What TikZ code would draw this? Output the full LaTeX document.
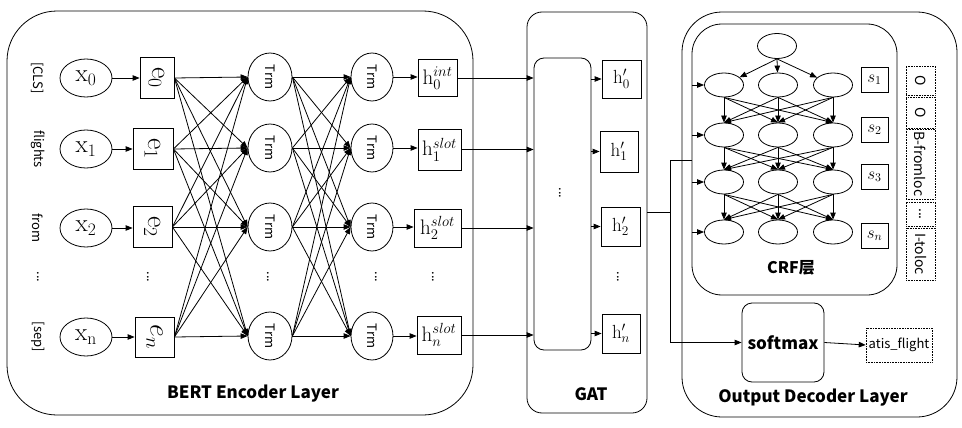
\RequirePackage{fix-cm}
\documentclass[tikz,border=0pt]{standalone}
\usepackage{fontspec}
\usepackage{graphicx}
\newfontfamily\cjk{Noto Sans CJK SC}
\usetikzlibrary{arrows.meta,shapes.geometric}
\tikzset{
  base/.style={line width=0.8pt},
  sqbox/.style={draw, base, inner sep=0pt},
  el/.style={draw, base, ellipse, inner sep=0pt},
  arr/.style={base, -{Triangle[length=7pt,width=5.5pt]}},
  ln/.style={base},
  dotbox/.style={draw, line width=0.6pt, densely dotted, inner sep=0pt},
  rbox/.style={draw, base, inner sep=0pt},
  sidelbl/.style={inner sep=0pt, font=\cjk\fontsize{13}{15}\selectfont, rotate=-90},
  dotlbl/.style={inner sep=0pt, font=\cjk\fontsize{13}{15}\selectfont, rotate=-90},
  title/.style={inner sep=0pt, font=\cjk\bfseries\fontsize{17}{20}\selectfont},
  xfont/.style={font=\fontsize{25}{27}\selectfont},
  efont/.style={font=\fontsize{28}{30}\selectfont},
  hfont/.style={font=\fontsize{21}{23}\selectfont},
  hpfont/.style={font=\fontsize{19}{21}\selectfont},
  trmfont/.style={font=\cjk\fontsize{13}{15}\selectfont},
  tagfont/.style={font=\cjk\fontsize{14}{16}\selectfont},
}
\newcommand{\rt}[1]{\rotatebox{-90}{#1}}
\begin{document}
\begin{tikzpicture}[x=1pt,y=-1pt]
\useasboundingbox (0,0) rectangle (962,428);

% ---------------- BERT encoder ----------------
\node[rbox, rounded corners=50pt, minimum width=466pt, minimum height=404pt] (bert) at (240,213) {};
\node[title] (bertlbl) at (253,394) {BERT Encoder Layer};

\node[sidelbl] (w0) at (38,78) {[CLS]};
\node[sidelbl] (w1) at (38,149) {flights};
\node[sidelbl] (w2) at (38,228) {from};
\node[dotlbl] (w3) at (38,277) {...};
\node[sidelbl] (w4) at (38,337) {[sep]};

\foreach \i/\y/\t in {0/78/{\mathrm{x}_0},1/149/{\mathrm{x}_1},2/228/{\mathrm{x}_2},n/337/{\mathrm{x}_\mathrm{n}}}{
  \node[el, minimum width=52pt, minimum height=38pt, xfont] (x\i) at (86,\y) {$\t$};
}
\node[sqbox, minimum width=34pt, minimum height=41pt, efont] (e0) at (157,78) {\rt{$\mathrm{e}_0$}};
\node[sqbox, minimum width=40pt, minimum height=41pt, efont] (e1) at (153,149) {\rt{$\mathrm{e}_1$}};
\node[sqbox, minimum width=39pt, minimum height=41pt, efont] (e2) at (152.5,227) {\rt{$\mathrm{e}_2$}};
\node[sqbox, minimum width=39pt, minimum height=40pt, efont] (en) at (154.5,337) {\rt{$e_n$}};
\node[dotlbl] (edots) at (148,277) {...};

\foreach \i/\y in {0/77,1/148,2/227,n/336}{
  \node[el, minimum width=44pt, minimum height=48pt, trmfont] (ta\i) at (270,\y) {\rt{Trm}};
  \node[el, minimum width=42pt, minimum height=48pt, trmfont] (tb\i) at (372,\y) {\rt{Trm}};
}
\node[dotlbl] (tadots) at (268,277) {...};
\node[dotlbl] (tbdots) at (376,277) {...};

\node[sqbox, minimum width=39pt, minimum height=37pt, hfont] (h0) at (437.5,78) {$\mathrm{h}_0^{int}$};
\node[sqbox, minimum width=43pt, minimum height=41pt, hfont] (h1) at (439.5,149.5) {$\mathrm{h}_1^{slot}$};
\node[sqbox, minimum width=47pt, minimum height=38pt, hfont] (h2) at (437.5,228) {$\mathrm{h}_2^{slot}$};
\node[sqbox, minimum width=44pt, minimum height=38pt, hfont] (hn) at (439,335) {$\mathrm{h}_n^{slot}$};
\node[dotlbl] (hdots) at (433,277) {...};

\foreach \i in {0,1,2,n}{
  \draw[arr] (x\i) -- (x\i -| e\i.west);
  \draw[arr] (tb\i) -- (tb\i -| h\i.west);
  \foreach \j in {0,1,2,n}{
    \draw[arr] (e\i.east) -- (ta\j.west);
    \draw[arr] (ta\i.east) -- (tb\j.west);
  }
}

% ---------------- GAT ----------------
\node[rbox, rounded corners=15pt, minimum width=120pt, minimum height=401pt] (gat) at (587,212.5) {};
\node[title] (gatlbl) at (591,394) {GAT};
\node[rbox, rounded corners=10pt, minimum width=57pt, minimum height=292pt] (gin) at (562.5,204) {};
\node[dotlbl] (gdots) at (560,193) {...};

\node[sqbox, minimum width=39pt, minimum height=38pt, hpfont] (hp0) at (621.5,79) {$\mathrm{h}_0'$};
\node[sqbox, minimum width=38pt, minimum height=41pt, hpfont] (hp1) at (619,151.5) {$\mathrm{h}_1'$};
\node[sqbox, minimum width=39pt, minimum height=39pt, hpfont] (hp2) at (620.5,226.5) {$\mathrm{h}_2'$};
\node[sqbox, minimum width=38pt, minimum height=39pt, hpfont] (hpn) at (621,333.5) {$\mathrm{h}_n'$};
\node[dotlbl] (hpdots) at (618,277) {...};

\foreach \i in {0,1,2,n}{
  \draw[arr] (h\i.east) -- (h\i.east -| gin.west);
  \draw[arr] (hp\i.west -| gin.east) -- (hp\i.west);
}

% ---------------- Output decoder ----------------
\node[rbox, rounded corners=40pt, minimum width=275pt, minimum height=405pt] (dec) at (819.5,214.5) {};
\node[title] (declbl) at (813,398) {Output Decoder Layer};
\node[rbox, rounded corners=30pt, minimum width=205pt, minimum height=271pt] (crf) at (794.5,159.5) {};
\node[title, font=\cjk\bfseries\fontsize{16}{18}\selectfont] (crflbl) at (791,268) {CRF层};

\node[el, minimum width=39pt, minimum height=25pt] (top) at (777,46) {};
\foreach \r/\y in {1/85,2/135,3/182,4/232}{
  \foreach \c/\x in {1/724,2/778,3/833}{
    \node[el, minimum width=39pt, minimum height=24pt] (c\r\c) at (\x,\y) {};
  }
  \draw[arr] (c\r1.west -| crf.west) -- (c\r1.west);
}
\foreach \c in {1,2,3}{ \draw[arr] (top.south) -- (c1\c); }
\foreach \r/\s in {1/2,2/3,3/4}{
  \foreach \a in {1,2,3}{
    \foreach \b in {1,2,3}{
      \draw[arr] (c\r\a.south) -- (c\s\b.north);
    }
  }
}

\foreach \i/\y/\t in {1/80/1,2/130/2,3/177/3,n/236/n}{
  \node[sqbox, minimum width=27pt, minimum height=25pt, font=\fontsize{17}{19}\selectfont] (s\i) at (874.5,\y) {$s_\t$};
}

\node[dotbox, minimum width=29pt, minimum height=29pt, tagfont] (o1) at (920.5,80.5) {\rt{O}};
\node[dotbox, minimum width=29pt, minimum height=31pt, tagfont] (o2) at (920.5,112.5) {\rt{O}};
\node[dotbox, minimum width=29pt, minimum height=70pt, tagfont] (o3) at (920.5,164) {\rt{B-fromloc}};
\node[dotbox, minimum width=29pt, minimum height=24pt, tagfont] (o4) at (920.5,214) {\rt{...}};
\node[dotbox, minimum width=29pt, minimum height=52pt, tagfont] (o5) at (920.5,254) {\rt{I-toloc}};

\node[rbox, rounded corners=10pt, minimum width=82pt, minimum height=79pt, font=\cjk\bfseries\fontsize{17}{20}\selectfont] (soft) at (783,342.5) {softmax};
\node[dotbox, minimum width=66pt, minimum height=34pt, font=\cjk\fontsize{13}{15}\selectfont] (atis) at (899,345) {atis\_flight};

\coordinate (j2) at (670,160);
\coordinate (j3) at (670,342.5);
\draw[ln] (gat.east) -| (j2) -- (j2 -| crf.west);
\draw[ln] (gat.east) -| (j3);
\draw[arr] (j3) -- (soft.west);
\draw[arr] (soft.east) -- (atis.west);

\end{tikzpicture}
\end{document}
